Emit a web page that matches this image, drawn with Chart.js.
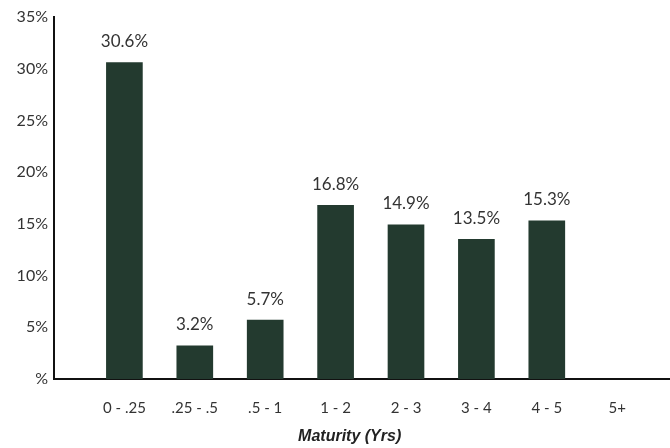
<!DOCTYPE html>
<html>
<head>
<meta charset="utf-8">
<script src="https://cdn.jsdelivr.net/npm/chart.js@4"></script>
<style>
html,body{margin:0;padding:0;background:#fff;}
#wrap{width:670px;height:448px;position:relative;}
</style>
</head>
<body>
<div id="wrap"><canvas id="c"></canvas></div>
<script>
const categories = ['0 - .25', '.25 - .5', '.5 - 1', '1 - 2', '2 - 3', '3 - 4', '4 - 5', '5+'];
const shares = [30.6, 3.2, 5.7, 16.8, 14.9, 13.5, 15.3, null];
const yTicks = [0, 5, 10, 15, 20, 25, 30, 35];
const axisTitle = 'Maturity (Yrs)';

const FONT = 'Lato, "Liberation Sans", sans-serif';
const TXT = '#333333';

const points = categories.map((c, i) => ({x: i, y: shares[i]}));

const valueLabels = {
  id: 'valueLabels',
  afterDatasetsDraw(chart) {
    const ctx = chart.ctx;
    const meta = chart.getDatasetMeta(0);
    ctx.save();
    ctx.font = '17px ' + FONT;
    ctx.fillStyle = TXT;
    ctx.textAlign = 'center';
    ctx.textBaseline = 'middle';
    meta.data.forEach((el, i) => {
      const v = shares[i];
      if (v === null || v === undefined) return;
      ctx.fillText(v.toFixed(1) + '%', el.x, el.y - 21);
    });
    ctx.restore();
  }
};

const bottomTitle = {
  id: 'bottomTitle',
  afterDraw(chart) {
    const ctx = chart.ctx;
    ctx.save();
    ctx.font = 'italic bold 16px "Liberation Sans", Arial, sans-serif';
    ctx.fillStyle = '#222222';
    ctx.textAlign = 'center';
    ctx.textBaseline = 'middle';
    const xs = chart.scales.x;
    ctx.fillText(axisTitle, xs.getPixelForValue(3.2), 437);
    ctx.restore();
  }
};

new Chart(document.getElementById('c'), {
  type: 'bar',
  data: {
    datasets: [{
      data: points,
      backgroundColor: '#233a2f',
      borderWidth: 0,
      barThickness: 36
    }]
  },
  options: {
    responsive: true,
    maintainAspectRatio: false,
    animation: false,
    layout: {padding: {top: 17, right: 0, left: 0, bottom: 0}},
    plugins: {legend: {display: false}, tooltip: {enabled: false}},
    scales: {
      x: {
        type: 'linear',
        offset: false,
        min: -1,
        max: 7.75,
        grid: {display: false, drawTicks: false},
        border: {display: true, color: '#111', width: 2},
        afterBuildTicks(scale) {
          scale.ticks = categories.map((c, i) => ({value: i}));
        },
        afterFit(scale) { scale.height = 69; },
        ticks: {
          autoSkip: false,
          maxRotation: 0,
          padding: 20,
          color: TXT,
          font: {family: FONT, size: 15},
          callback: (v) => categories[v] !== undefined ? categories[v] : ''
        }
      },
      y: {
        min: 0,
        max: 35,
        afterBuildTicks(scale) {
          scale.ticks = yTicks.map(v => ({value: v}));
        },
        afterFit(scale) { scale.width = 54; },
        grid: {display: false, drawTicks: false},
        border: {display: true, color: '#111', width: 2},
        ticks: {
          padding: 6,
          color: TXT,
          font: {family: FONT, size: 16},
          callback: (v) => v === 0 ? '%' : v + '%'
        }
      }
    }
  },
  plugins: [valueLabels, bottomTitle]
});
</script>
</body>
</html>
